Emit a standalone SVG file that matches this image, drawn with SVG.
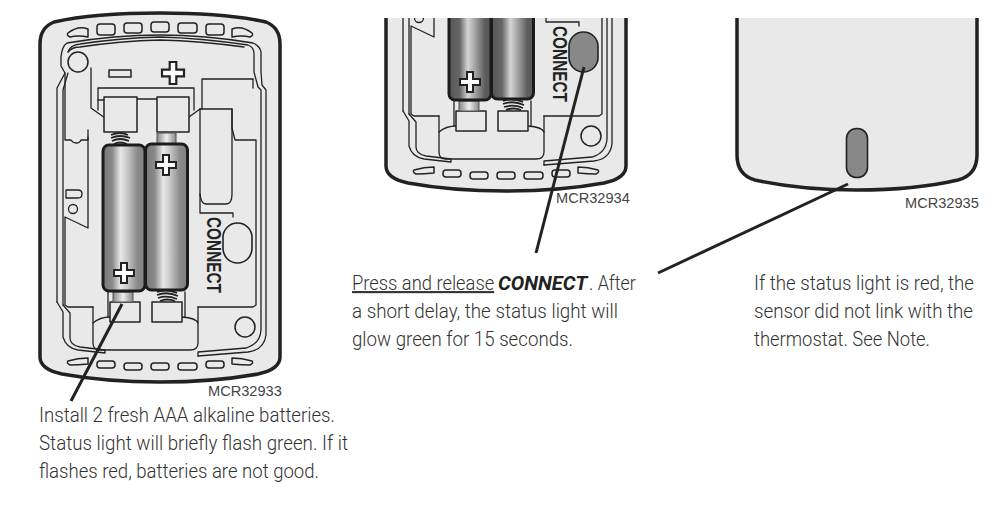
<svg xmlns="http://www.w3.org/2000/svg" xmlns:xlink="http://www.w3.org/1999/xlink" width="1001" height="506" viewBox="0 0 1001 506">
<style>
.o{fill:#e9e9e9;stroke:#222;stroke-width:3.5}
.l{fill:none;stroke:#222;stroke-width:1.3;stroke-linejoin:round;stroke-linecap:round}
.w{fill:#e9e9e9;stroke:#222;stroke-width:1.5;stroke-linejoin:round}
.bt{stroke:#1c1c1c;stroke-width:3}
.pl{fill:#fff;stroke:#222;stroke-width:2;stroke-linejoin:miter}
.s{fill:none;stroke:#222;stroke-width:1.8}
.lead{fill:none;stroke:#222;stroke-width:3}
.t{font-family:"Roboto","Liberation Sans",sans-serif;font-weight:300;font-size:21px;fill:#333}
.m{font-family:"Liberation Sans",Arial,sans-serif;font-size:14.6px;fill:#444}
.c{font-family:"Liberation Sans",Arial,sans-serif;font-weight:bold;font-size:21px;fill:#222}
</style>
<defs>
<linearGradient id="g1" x1="0" x2="1" y1="0" y2="0"><stop offset="0" stop-color="#777"/><stop offset=".22" stop-color="#8a8a8a"/><stop offset=".42" stop-color="#e8e8e8"/><stop offset=".58" stop-color="#c8c8c8"/><stop offset=".82" stop-color="#8a8a8a"/><stop offset="1" stop-color="#808080"/></linearGradient>
<linearGradient id="g2" x1="0" x2="1" y1="0" y2="0"><stop offset="0" stop-color="#555"/><stop offset=".25" stop-color="#666"/><stop offset=".45" stop-color="#d5d5d5"/><stop offset=".6" stop-color="#aaa"/><stop offset=".85" stop-color="#5e5e5e"/><stop offset="1" stop-color="#555"/></linearGradient>
<linearGradient id="n" x1="0" x2="1" y1="0" y2="0"><stop offset="0" stop-color="#888"/><stop offset=".5" stop-color="#eee"/><stop offset="1" stop-color="#888"/></linearGradient>
<clipPath id="top"><rect x="0" y="18" width="1001" height="488"/></clipPath>
<path id="plus" class="pl" d="M-3,-10H3V-3H10V3H3V10H-3V3H-10V-3H-3Z"/>
<g id="device">
<path class="o" d="M40,357V44C40,33 44,26 54,22C85,15 120,13 160,13C200,13 235,15 266,22C276,26 280,33 280,44V357C280,366 272,371 258,374C225,380 195,382 160,382C125,382 95,380 62,374C48,371 40,366 40,357Z"/>
<g class="w">
<path d="M68,33Q78,25 88,29V37Q78,35 70,37Q66,35 68,33Z"/><rect x="97" y="24" width="18" height="11" rx="3"/><rect x="124" y="23" width="18" height="10" rx="3"/><rect x="151" y="22" width="18" height="10" rx="3"/><rect x="178" y="23" width="19" height="10" rx="3"/><rect x="206" y="24" width="18" height="11" rx="3"/><path d="M232,29Q242,25 252,33Q254,35 250,37Q242,35 232,37Z"/>
<path d="M68,361Q78,358 88,358V364Q78,365 70,365Q66,363 68,361Z"/><rect x="97" y="361" width="18" height="7" rx="3"/><rect x="124" y="363" width="18" height="7" rx="3"/><rect x="151" y="363" width="18" height="7" rx="3"/><rect x="178" y="363" width="19" height="7" rx="3"/><rect x="206" y="361" width="18" height="7" rx="3"/><path d="M232,358Q242,358 252,361Q254,363 250,365Q242,365 232,364Z"/>
</g>
<g class="l">
<path d="M57,302V88L65,73L61,66V57Q62,46 67,43Q115,35 160,35Q205,35 253,43Q260,46 261,52V72L262,85L266,90V335Q264,350 248,352L198,356"/>
<path d="M63,305V90L68,73"/>
<path d="M68,52Q70,45 80,44Q120,38 160,37Q200,38 248,45Q254,47 254,54V72L258,87L261,90V330Q260,344 246,348L198,352V356"/>
<path d="M68,52Q72,47 80,47Q120,41 160,40Q200,41 244,47"/>
<path d="M57,302L63,312V337Q66,348 78,350L105,353L105,350L80,347Q70,345 70,338V313L63,305"/>
<path d="M65,73V140H71Q73,143 76,143Q80,143 81,140H88V130"/><path d="M91,68V108L105,118"/>
<path d="M88,137V228L65,217V305L68,307H93"/><path d="M66,198V190H78Q82,190 82,194Q82,198 78,198Z"/><circle cx="73" cy="209" r="4.5"/>
<path d="M98,110V88H194V110"/><path d="M98,100H104"/><path d="M137,99H157"/><path d="M189,117L200,109"/>
<path d="M202,109V79H253"/><path d="M253,79V88"/><path d="M200,109H232V128L235,140H256V305L253,307H198"/><path d="M200,109V213H233V217"/>
<path d="M200,194Q201,204 206,204H226Q232,204 232,194V109"/>
<path d="M93,307V343Q93,350 100,350H190Q198,350 198,343V307"/><path d="M93,323Q100,317 110,317"/><path d="M182,317Q196,318 198,323"/>
<path d="M108,292V317"/><path d="M185,292V317"/>
</g>
<rect class="w" x="104" y="97" width="33" height="35"/>
<rect class="w" x="157" y="97" width="32" height="35"/>
<rect class="w" x="110" y="302" width="30" height="20"/>
<rect class="w" x="152" y="302" width="30" height="20"/>
<circle class="w" cx="78" cy="62" r="10"/>
<circle class="w" cx="245" cy="327" r="10"/>
<rect x="157" y="133" width="19" height="11" fill="url(#n)" stroke="#555"/>
<rect x="113" y="292" width="20" height="10" fill="url(#n)" stroke="#555"/>
<path class="s" d="M111,135Q120,131 128,135M111,138Q120,134 130,138M112,141Q120,137 129,141M114,144Q120,141 127,144"/>
<path class="s" d="M157,292Q167,288 177,293M157,295Q167,291 178,296M158,298Q167,295 177,299M160,301Q167,298 175,301"/>
<rect class="bt" x="103" y="145" width="42" height="146" rx="6" style="fill:var(--bat)"/>
<rect class="bt" x="145.500" y="144" width="42" height="146" rx="6" style="fill:var(--bat)"/>
<use xlink:href="#plus" href="#plus" transform="translate(166,165)"/>
<use xlink:href="#plus" href="#plus" transform="translate(124,273)"/>
<text class="c" transform="translate(207,217) rotate(90)" textLength="76" lengthAdjust="spacingAndGlyphs">CONNECT</text>
<rect x="223" y="223" width="29" height="40" rx="14.500" stroke="#222" stroke-width="1.6" style="fill:var(--btn)"/>
</g>
</defs>
<rect width="1001" height="506" fill="#fff"/>
<g id="node-device-batteries">
<use xlink:href="#device" href="#device" style="--bat:url(#g1);--btn:#e9e9e9"/>
<rect class="w" x="109" y="70" width="22" height="7" stroke-width="2"/>
<use xlink:href="#plus" href="#plus" transform="translate(173,73) scale(1.1)"/>
<text class="m" x="208" y="396">MCR32933</text>
</g>
<g id="node-device-connect">
<g clip-path="url(#top)"><use xlink:href="#device" href="#device" transform="translate(346,-191)" style="--bat:url(#g2);--btn:#888"/></g>
<text class="m" x="556" y="203">MCR32934</text>
</g>
<g id="node-device-status">
<path class="o" clip-path="url(#top)" d="M737,10V155Q737,175 755,180Q800,190 857,190Q915,190 958,180Q977,175 977,155V10"/>
<rect x="846.500" y="128.500" width="21" height="49" rx="10" fill="#888" stroke="#222" stroke-width="1.6"/>
<text class="m" x="905" y="208">MCR32935</text>
</g>
<g id="connectors">
<path class="lead" d="M71,401L122,304"/>
<path class="lead" d="M536,253L584,67"/>
<path class="lead" d="M658,273L848,184"/>
</g>
<g id="labels">
<text class="t" x="39" y="422" textLength="296" lengthAdjust="spacingAndGlyphs">Install 2 fresh AAA alkaline batteries.</text>
<text class="t" x="39" y="450" textLength="309" lengthAdjust="spacingAndGlyphs">Status light will briefly flash green. If it</text>
<text class="t" x="39" y="478" textLength="280" lengthAdjust="spacingAndGlyphs">flashes red, batteries are not good.</text>
<text class="t" transform="translate(352,290) scale(.9,1)" text-decoration="underline" textLength="158" lengthAdjust="spacingAndGlyphs">Press and release</text>
<text class="t" transform="translate(498,290) scale(.92,1)" font-weight="700" font-style="italic" style="font-weight:700;font-style:italic;fill:#222" textLength="97" lengthAdjust="spacingAndGlyphs">CONNECT</text>
<text class="t" transform="translate(589,290) scale(.9,1)" textLength="52" lengthAdjust="spacingAndGlyphs">. After</text>
<text class="t" x="352" y="318" textLength="266" lengthAdjust="spacingAndGlyphs">a short delay, the status light will</text>
<text class="t" x="352" y="346" textLength="221" lengthAdjust="spacingAndGlyphs">glow green for 15 seconds.</text>
<text class="t" x="754" y="290" textLength="220" lengthAdjust="spacingAndGlyphs">If the status light is red, the</text>
<text class="t" x="754" y="318" textLength="219" lengthAdjust="spacingAndGlyphs">sensor did not link with the</text>
<text class="t" x="754" y="346" textLength="176" lengthAdjust="spacingAndGlyphs">thermostat. See Note.</text>
</g>
</svg>
